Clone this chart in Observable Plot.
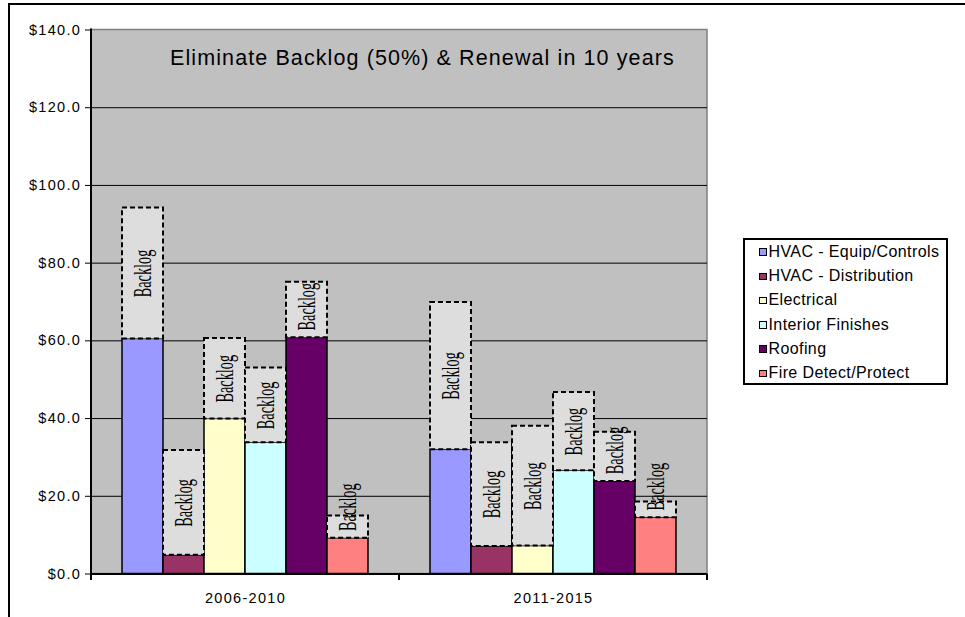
<!DOCTYPE html>
<html>
<head>
<meta charset="utf-8">
<script src="https://cdn.jsdelivr.net/npm/d3@7"></script>
<script src="https://cdn.jsdelivr.net/npm/@observablehq/plot@0.6"></script>
<style>
  body { margin: 0; background: #fff; overflow: hidden; }
  #wrap { position: relative; width: 965px; height: 617px; overflow: hidden; background: #fff; }
  #wrap svg { position: absolute; left: 0; top: 0; }
  #frame { position: absolute; left: 8px; top: 3px; width: 1000px; height: 700px;
           border-left: 2px solid #000; border-top: 2px solid #000; pointer-events: none; }
  #title { position: absolute; left: 170px; top: 47.6px; font-family: "Liberation Sans", Arial, sans-serif;
           font-size: 21.5px; line-height: 21.5px; letter-spacing: 1.1px; color: #000; white-space: nowrap; }
  #legend { position: absolute; left: 742.5px; top: 237.5px; width: 205px; height: 147px; box-sizing: border-box;
            border: 2px solid #000; background: #fff; font-family: "Liberation Sans", Arial, sans-serif;
            font-size: 16px; letter-spacing: 0.4px; color: #000; }
  .item { position: absolute; left: 0; height: 24px; line-height: 24px; white-space: nowrap; }
  .sw { position: absolute; left: 14.5px; top: 8.5px; width: 7.5px; height: 7.5px; box-sizing: border-box; border: 1.5px solid #000; }
  .lt { position: absolute; left: 24px; top: 0; }
</style>
</head>
<body>
<div id="wrap">
  <div id="frame"></div>
</div>
<script>
const periods = ["2006-2010", "2011-2015"];
const categories = ["HVAC - Equip/Controls", "HVAC - Distribution", "Electrical", "Interior Finishes", "Roofing", "Fire Detect/Protect"];
const colors = ["#9999ff", "#993366", "#ffffcc", "#ccffff", "#660066", "#ff8080"];
const renewal2006 = [60.5, 4.8, 39.9, 33.8, 60.8, 9.2];
const backlog2006 = [33.7, 27.0, 20.7, 19.2, 14.3, 5.7];
const renewal2011 = [32.0, 7.1, 7.2, 26.6, 23.8, 14.5];
const backlog2011 = [37.9, 26.7, 30.8, 20.1, 12.7, 4.0];
const yTicks = [0, 20, 40, 60, 80, 100, 120, 140];
const gridTicks = [20, 40, 60, 80, 100, 120];
const titleText = "Eliminate Backlog (50%) & Renewal in 10 years";
const backlogLabel = "Backlog";

const rows = [];
[[renewal2006, backlog2006], [renewal2011, backlog2011]].forEach(([ren, bl], pi) => {
  categories.forEach((c, i) => {
    const base = ren[i], b = bl[i];
    rows.push({period: periods[pi], category: c, base, backlog: b, top: base + b,
               labelY: Math.max(base + b / 2, base + 8)});
  });
});

const W = 965, H = 617, mL = 91, mR = 258, mT = 29.5, mB = 43.5;

const svg = Plot.plot({
  width: W, height: H,
  marginLeft: mL, marginRight: mR, marginTop: mT, marginBottom: mB,
  style: {fontFamily: "'Liberation Sans', Arial, sans-serif", fontSize: "14.5px", color: "#000", background: "transparent", overflow: "visible"},
  facet: {data: rows, x: "period"},
  fx: {domain: periods, padding: 0, axis: "bottom", label: null, tickSize: 0, tickPadding: 19},
  x: {domain: categories, axis: null, paddingInner: 0, paddingOuter: 0.756},
  y: {domain: [0, 140], ticks: yTicks, tickFormat: d => "$" + d.toFixed(1), tickSize: 6, tickPadding: 4.4, label: null},
  color: {domain: categories, range: colors},
  marks: [
    Plot.ruleY(gridTicks, {stroke: "#000", strokeWidth: 1}),
    Plot.barY(rows, {x: "category", y1: 0, y2: "base", fill: "category", stroke: "#000", strokeWidth: 1.5}),
    Plot.barY(rows, {x: "category", y1: "base", y2: "top", fill: "#dddddd", stroke: "#000", strokeWidth: 2, strokeDasharray: "5,3"}),
    Plot.text(rows, {x: "category", y: "labelY", text: () => backlogLabel, rotate: -90, fill: "#000",
                     fontFamily: "'Liberation Serif', 'Times New Roman', serif", fontSize: 26}),
    Plot.ruleY([0], {stroke: "#000", strokeWidth: 2})
  ]
});

const wrap = document.getElementById("wrap");
wrap.insertBefore(svg, wrap.firstChild);

const s = d3.select(svg);
s.style("letter-spacing", "1.3px");
// plot-area background and border
s.insert("rect", ":first-child")
  .attr("x", mL).attr("y", mT).attr("width", W - mL - mR).attr("height", H - mT - mB)
  .attr("fill", "#c0c0c0").attr("stroke", "#808080").attr("stroke-width", 1.5);
// y axis line
s.append("line").attr("x1", mL).attr("x2", mL).attr("y1", mT - 1).attr("y2", H - mB + 1)
  .attr("stroke", "#000").attr("stroke-width", 2);
// category boundary ticks on x axis
const pw = (W - mL - mR) / periods.length;
for (let i = 0; i <= periods.length; i++) {
  const x = mL + i * pw;
  s.append("line").attr("x1", x).attr("x2", x).attr("y1", H - mB).attr("y2", H - mB + 6.5)
    .attr("stroke", "#000").attr("stroke-width", 2);
}
// condense the Backlog labels
s.selectAll("text").filter(function() { return this.textContent === backlogLabel; })
  .each(function() {
    const t = this.getAttribute("transform") || "";
    this.setAttribute("transform", t + " scale(0.55,1)");
    this.style.letterSpacing = "0px";
  });

// title
const title = document.createElement("div");
title.id = "title";
title.textContent = titleText;
wrap.appendChild(title);

// legend
const lg = document.createElement("div");
lg.id = "legend";
categories.forEach((c, i) => {
  const it = document.createElement("div");
  it.className = "item";
  it.style.top = (14.2 - 2 + i * 24.3 - 12) + "px";
  const sw = document.createElement("div");
  sw.className = "sw";
  sw.style.background = colors[i];
  const lt = document.createElement("div");
  lt.className = "lt";
  lt.textContent = c;
  it.appendChild(sw); it.appendChild(lt);
  lg.appendChild(it);
});
wrap.appendChild(lg);
</script>
</body>
</html>
